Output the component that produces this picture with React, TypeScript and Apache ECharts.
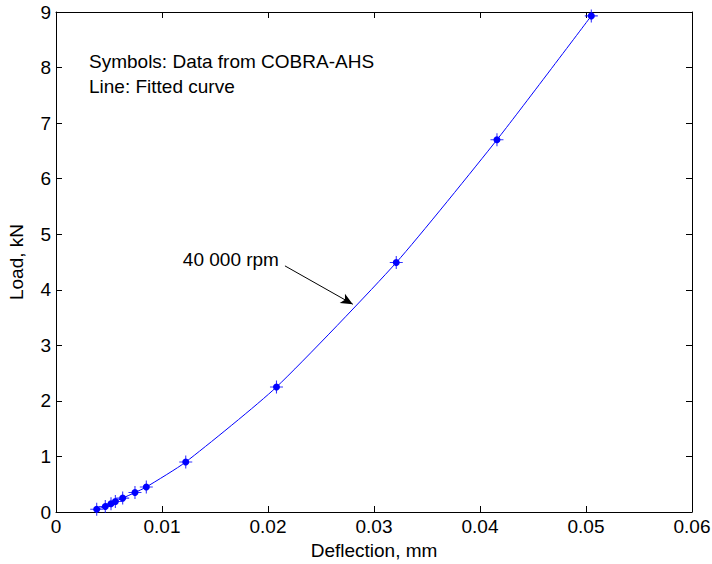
import React, { useEffect, useRef } from "react";
import * as echarts from "echarts";

const deflection = [0.00384, 0.00465, 0.00519, 0.0056, 0.00629, 0.00745, 0.00852, 0.01224, 0.0208, 0.0321, 0.0416, 0.0505];
const load = [0.05, 0.1, 0.15, 0.19, 0.25, 0.35, 0.45, 0.9, 2.25, 4.49, 6.7, 8.93];
const xTicks = [0, 0.01, 0.02, 0.03, 0.04, 0.05, 0.06];
const yTicks = [0, 1, 2, 3, 4, 5, 6, 7, 8, 9];
const annotationText = "40 000 rpm";
const arrowStart = [0.0216, 4.43];
const arrowEnd = [0.028, 3.74];
const noteLines = ["Symbols: Data from COBRA-AHS", "Line: Fitted curve"];

const FONT = "'Liberation Sans', Arial, Helvetica, sans-serif";
const FS = 19;
const BLUE = "#0000ff";

export default function App() {
  const ref = useRef<HTMLDivElement>(null);
  useEffect(() => {
    document.body.style.margin = "0";
    if (!ref.current) return;
    const chart = echarts.init(ref.current, undefined, { renderer: "svg" });
    const pts = deflection.map((x, i) => [x, load[i]]);
    const axisCommon = {
      axisLine: { show: true, onZero: false, lineStyle: { color: "#000", width: 1 } },
      axisTick: { show: true, inside: true, length: 6, lineStyle: { color: "#000" } },
      splitLine: { show: false },
    };
    chart.setOption({
      animation: false,
      backgroundColor: "#fff",
      textStyle: { fontFamily: FONT },
      grid: { left: 56, right: 20, top: 12, bottom: 52, containLabel: false, outerBoundsMode: "none" },
      xAxis: [
        {
          type: "value",
          min: xTicks[0],
          max: xTicks[xTicks.length - 1],
          interval: 0.01,
          position: "bottom",
          name: "Deflection, mm",
          nameLocation: "middle",
          nameGap: 28,
          nameTextStyle: { fontSize: FS, color: "#000", fontFamily: FONT },
          axisLabel: {
            fontSize: FS,
            color: "#000",
            margin: 5,
            fontFamily: FONT,
            formatter: (v: number) => (v === 0 ? "0" : String(Number(v.toFixed(2)))),
          },
          ...axisCommon,
        },
        {
          type: "value",
          min: xTicks[0],
          max: xTicks[xTicks.length - 1],
          interval: 0.01,
          position: "top",
          axisLabel: { show: false },
          ...axisCommon,
        },
      ],
      yAxis: [
        {
          type: "value",
          min: yTicks[0],
          max: yTicks[yTicks.length - 1],
          interval: 1,
          position: "left",
          name: "Load, kN",
          nameLocation: "middle",
          nameGap: 30,
          nameTextStyle: { fontSize: FS, color: "#000", fontFamily: FONT },
          axisLabel: { fontSize: FS, color: "#000", margin: 5, fontFamily: FONT },
          ...axisCommon,
        },
        {
          type: "value",
          min: yTicks[0],
          max: yTicks[yTicks.length - 1],
          interval: 1,
          position: "right",
          axisLabel: { show: false },
          ...axisCommon,
        },
      ],
      graphic: [
        {
          type: "text",
          x: 89,
          y: 61,
          style: { text: noteLines[0], fontSize: FS, fill: "#000", fontFamily: FONT, verticalAlign: "middle" },
        },
        {
          type: "text",
          x: 89,
          y: 86,
          style: { text: noteLines[1], fontSize: FS, fill: "#000", fontFamily: FONT, verticalAlign: "middle" },
        },
      ],
      series: [
        {
          type: "line",
          data: pts,
          smooth: 0.2,
          showSymbol: true,
          symbol: "circle",
          symbolSize: 7,
          itemStyle: { color: BLUE },
          lineStyle: { color: BLUE, width: 1 },
          z: 3,
          markLine: {
            silent: true,
            symbol: ["none", "arrow"],
            symbolSize: [8, 12],
            lineStyle: { color: "#000", width: 1, type: "solid" },
            label: { show: false },
            data: [[{ coord: arrowStart }, { coord: arrowEnd }]],
          },
          markPoint: {
            silent: true,
            symbol: "circle",
            symbolSize: 0,
            label: {
              show: true,
              position: "left",
              distance: 6,
              formatter: annotationText,
              fontSize: FS,
              color: "#000",
              fontFamily: FONT,
              offset: [0, -6],
            },
            data: [{ coord: arrowStart }],
          },
        },
        {
          type: "scatter",
          data: pts,
          symbol: "path://M-6,-0.5 L6,-0.5 L6,0.5 L-6,0.5 Z M-0.5,-6 L0.5,-6 L0.5,6 L-0.5,6 Z",
          symbolSize: 13,
          itemStyle: { color: BLUE },
          z: 4,
        },
      ],
    });
    return () => chart.dispose();
  }, []);
  return <div ref={ref} style={{ width: 712, height: 564 }} />;
}
